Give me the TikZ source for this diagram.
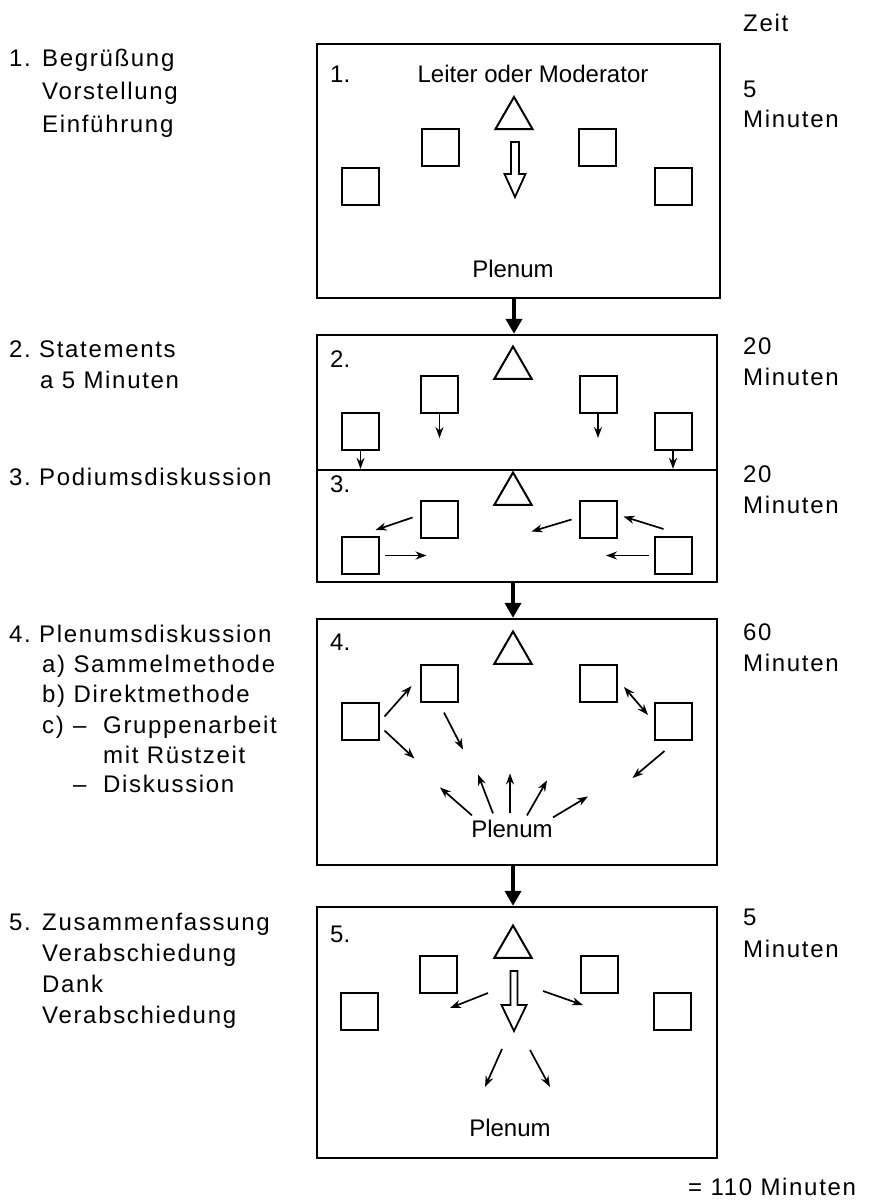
\documentclass[tikz,border=0pt]{standalone}
\usepackage{fontspec}
\setmainfont{Liberation Sans}
\newfontfamily\spaced{Liberation Sans}[LetterSpace=7]
\usetikzlibrary{arrows.meta,shapes.geometric}

\begin{document}
\begin{tikzpicture}[x=1pt,y=-1pt,>={Stealth[length=11pt,width=8pt]},
  font=\fontsize{24}{30}\selectfont,
  panel/.style={draw,line width=2.3pt,inner sep=0},
  seat/.style={draw,line width=2pt,minimum size=37pt,inner sep=0},
  lead/.style={draw,line width=2pt,regular polygon,regular polygon sides=3,
    minimum size=43pt,inner sep=0},
  talk/.style={line width=1.7pt,->},
  flow/.style={line width=4pt,-{Triangle[length=15pt,width=16pt]}},
  hollow/.style={line width=1.8pt,line join=miter},
  col/.style={anchor=base west,inner sep=0,font=\fontsize{24}{30}\selectfont\spaced},
  lbl/.style={anchor=base west,inner sep=0},
  mid/.style={anchor=base,inner sep=0}]
  \useasboundingbox (0,0) rectangle (875,1204);

  % left column: phases
  \node[col] (s1n) at (9,67) {1.};
  \node[col] (s1a) at (42,67) {Begrüßung};
  \node[col] (s1b) at (42,100) {Vorstellung};
  \node[col] (s1c) at (42,132) {Einführung};
  \node[col] (s2n) at (9,357) {2.};
  \node[col] (s2a) at (39,357) {Statements};
  \node[col] (s2b) at (40,388) {a 5 Minuten};
  \node[col] (s3n) at (9,485) {3.};
  \node[col] (s3a) at (39,485) {Podiumsdiskussion};
  \node[col] (s4n) at (9,642) {4.};
  \node[col] (s4a) at (39,642) {Plenumsdiskussion};
  \node[col] (s4b) at (42,672) {a) Sammelmethode};
  \node[col] (s4c) at (42,702) {b) Direktmethode};
  \node[col] (s4d) at (42,733) {c)};
  \node[col] (s4e) at (73,733) {\textendash};
  \node[col] (s4f) at (103,733) {Gruppenarbeit};
  \node[col] (s4g) at (103,763) {mit Rüstzeit};
  \node[col] (s4h) at (73,792) {\textendash};
  \node[col] (s4i) at (103,792) {Diskussion};
  \node[col] (s5n) at (9,930) {5.};
  \node[col] (s5a) at (42,930) {Zusammenfassung};
  \node[col] (s5b) at (42,961) {Verabschiedung};
  \node[col] (s5c) at (42,992) {Dank};
  \node[col] (s5d) at (42,1023) {Verabschiedung};

  % right column: time
  \node[col] (zeit) at (743,32) {Zeit};
  \node[col] (d1) at (743,98) {5};
  \node[col] (m1) at (743,128) {Minuten};
  \node[col] (d2) at (743,354) {20};
  \node[col] (m2) at (743,385) {Minuten};
  \node[col] (d3) at (743,482) {20};
  \node[col] (m3) at (743,513) {Minuten};
  \node[col] (d4) at (743,640) {60};
  \node[col] (m4) at (743,671) {Minuten};
  \node[col] (d5) at (743,925) {5};
  \node[col] (m5) at (743,957) {Minuten};
  \node[col] (total) at (688,1195) {= 110 Minuten};

  % panels
  \node[panel,minimum width=403pt,minimum height=254pt] (box1) at (518.5,171) {};
  \node[panel,minimum width=400pt,minimum height=135pt] (box2) at (517,402.5) {};
  \node[panel,minimum width=400pt,minimum height=112pt] (box3) at (517,526) {};
  \node[panel,minimum width=400pt,minimum height=246pt] (box4) at (517,742) {};
  \node[panel,minimum width=400pt,minimum height=251pt] (box5) at (517,1032.5) {};

  % 1. welcome
  \node[lbl] (n1) at (330,83) {1.};
  \node[mid] (lm) at (533,83) {Leiter oder Moderator};
  \node[lead] (t1) at (514,118.5) {};
  \node[seat] (i1l) at (440.5,147.5) {};
  \node[seat] (i1r) at (597.5,147.5) {};
  \node[seat] (o1l) at (360.5,186) {};
  \node[seat] (o1r) at (673.5,186) {};
  \coordinate (h1) at (515,142);
  \draw[hollow] ([shift={(-4,0)}]h1) -- ++(8,0) -- ++(0,32) -- ++(6.5,0)
    -- ++(-10.5,23) -- ++(-10.5,-23) -- ++(6.5,0) -- cycle;
  \node[mid] (p1) at (513,277) {Plenum};

  % 2. statements
  \node[lbl] (n2) at (330,367) {2.};
  \node[lead] (t2) at (513,368) {};
  \node[seat] (i2l) at (439.5,394.5) {};
  \node[seat] (i2r) at (598,394.5) {};
  \node[seat] (o2l) at (360.5,431.5) {};
  \node[seat] (o2r) at (673,431.5) {};
  \draw[talk] (i2l.south) -- ++(0,24);
  \draw[talk] (i2r.south) -- ++(0,24);
  \draw[talk] (o2l.south) -- (o2l.south |- box3.north);
  \draw[talk] (o2r.south) -- (o2r.south |- box3.north);

  % 3. podium
  \node[lbl] (n3) at (330,492) {3.};
  \node[lead] (t3) at (513,494) {};
  \node[seat] (i3l) at (439,519.5) {};
  \node[seat] (i3r) at (598,519.5) {};
  \node[seat] (o3l) at (360,555.5) {};
  \node[seat] (o3r) at (673.5,555.5) {};
  \draw[talk] ([shift={(-7,-2)}]i3l.west) -- ([shift={(-4,-6)}]o3l.north east);
  \draw[talk] ([shift={(-7,0)}]i3r.west) -- ++(-40,12);
  \draw[talk] ([shift={(-10,-7)}]o3r.north) -- ([shift={(6,-3)}]i3r.east);
  \draw[talk] ([shift={(5,0)}]o3l.east) -- ++(42,0);
  \draw[talk] ([shift={(-5,0)}]o3r.west) -- ++(-43,0);

  % 4. plenum discussion
  \node[lbl] (n4) at (330,650) {4.};
  \node[lead] (t4) at (513,653) {};
  \node[seat] (i4l) at (439,683) {};
  \node[seat] (i4r) at (598.5,683) {};
  \node[seat] (o4l) at (360,721.5) {};
  \node[seat] (o4r) at (673.5,721.5) {};
  \node[mid] (p4) at (512,837) {Plenum};
  \draw[talk] ([shift={(5,-5)}]o4l.east) -- ([shift={(-8,3)}]i4l.west);
  \draw[talk] ([shift={(5,9)}]o4l.east) -- ++(30,28);
  \draw[talk] ([shift={(5,10)}]i4l.south) -- ++(19,37);
  \draw[talk,<->] ([shift={(6,4)}]i4r.east) -- ([shift={(-6,13)}]o4r.north west);
  \draw[talk] ([shift={(-9,10)}]o4r.south) -- ++(-32,27);
  \draw[talk] ([shift={(-40,-4)}]p4.north) -- ++(-32,-28);
  \draw[talk] ([shift={(-19,-6)}]p4.north) -- ++(-15,-39);
  \draw[talk] ([shift={(-2,-6)}]p4.north) -- ++(0,-40);
  \draw[talk] ([shift={(15,-4)}]p4.north) -- ++(20,-35);
  \draw[talk] ([shift={(41,-2)}]p4.north) -- ++(35,-21);

  % 5. summary
  \node[lbl] (n5) at (330,942) {5.};
  \node[lead] (t5) at (513,947) {};
  \node[seat] (i5l) at (438.5,974) {};
  \node[seat] (i5r) at (599,974) {};
  \node[seat] (o5l) at (359,1011) {};
  \node[seat] (o5r) at (672.5,1011) {};
  \coordinate (h5) at (514,971);
  \draw[hollow] ([shift={(-3.5,0)}]h5) -- ++(7,0) -- ++(0,34) -- ++(9,0)
    -- ++(-12.5,26) -- ++(-12.5,-26) -- ++(9,0) -- cycle;
  \draw[talk] ([shift={(-26,22)}]h5) -- ++(-38,15);
  \draw[talk] ([shift={(29,20)}]h5) -- ++(40,14);
  \draw[talk] ([shift={(-12,78)}]h5) -- ++(-17,38);
  \draw[talk] ([shift={(16,79)}]h5) -- ++(20,37);
  \node[mid] (p5) at (510,1136) {Plenum};

  % flow between phases
  \draw[flow] (box1.south -| t1) -- (box2.north -| t1);
  \draw[flow] (box3.south -| t3) -- (box4.north -| t3);
  \draw[flow] (box4.south -| t4) -- (box5.north -| t4);
\end{tikzpicture}
\end{document}
